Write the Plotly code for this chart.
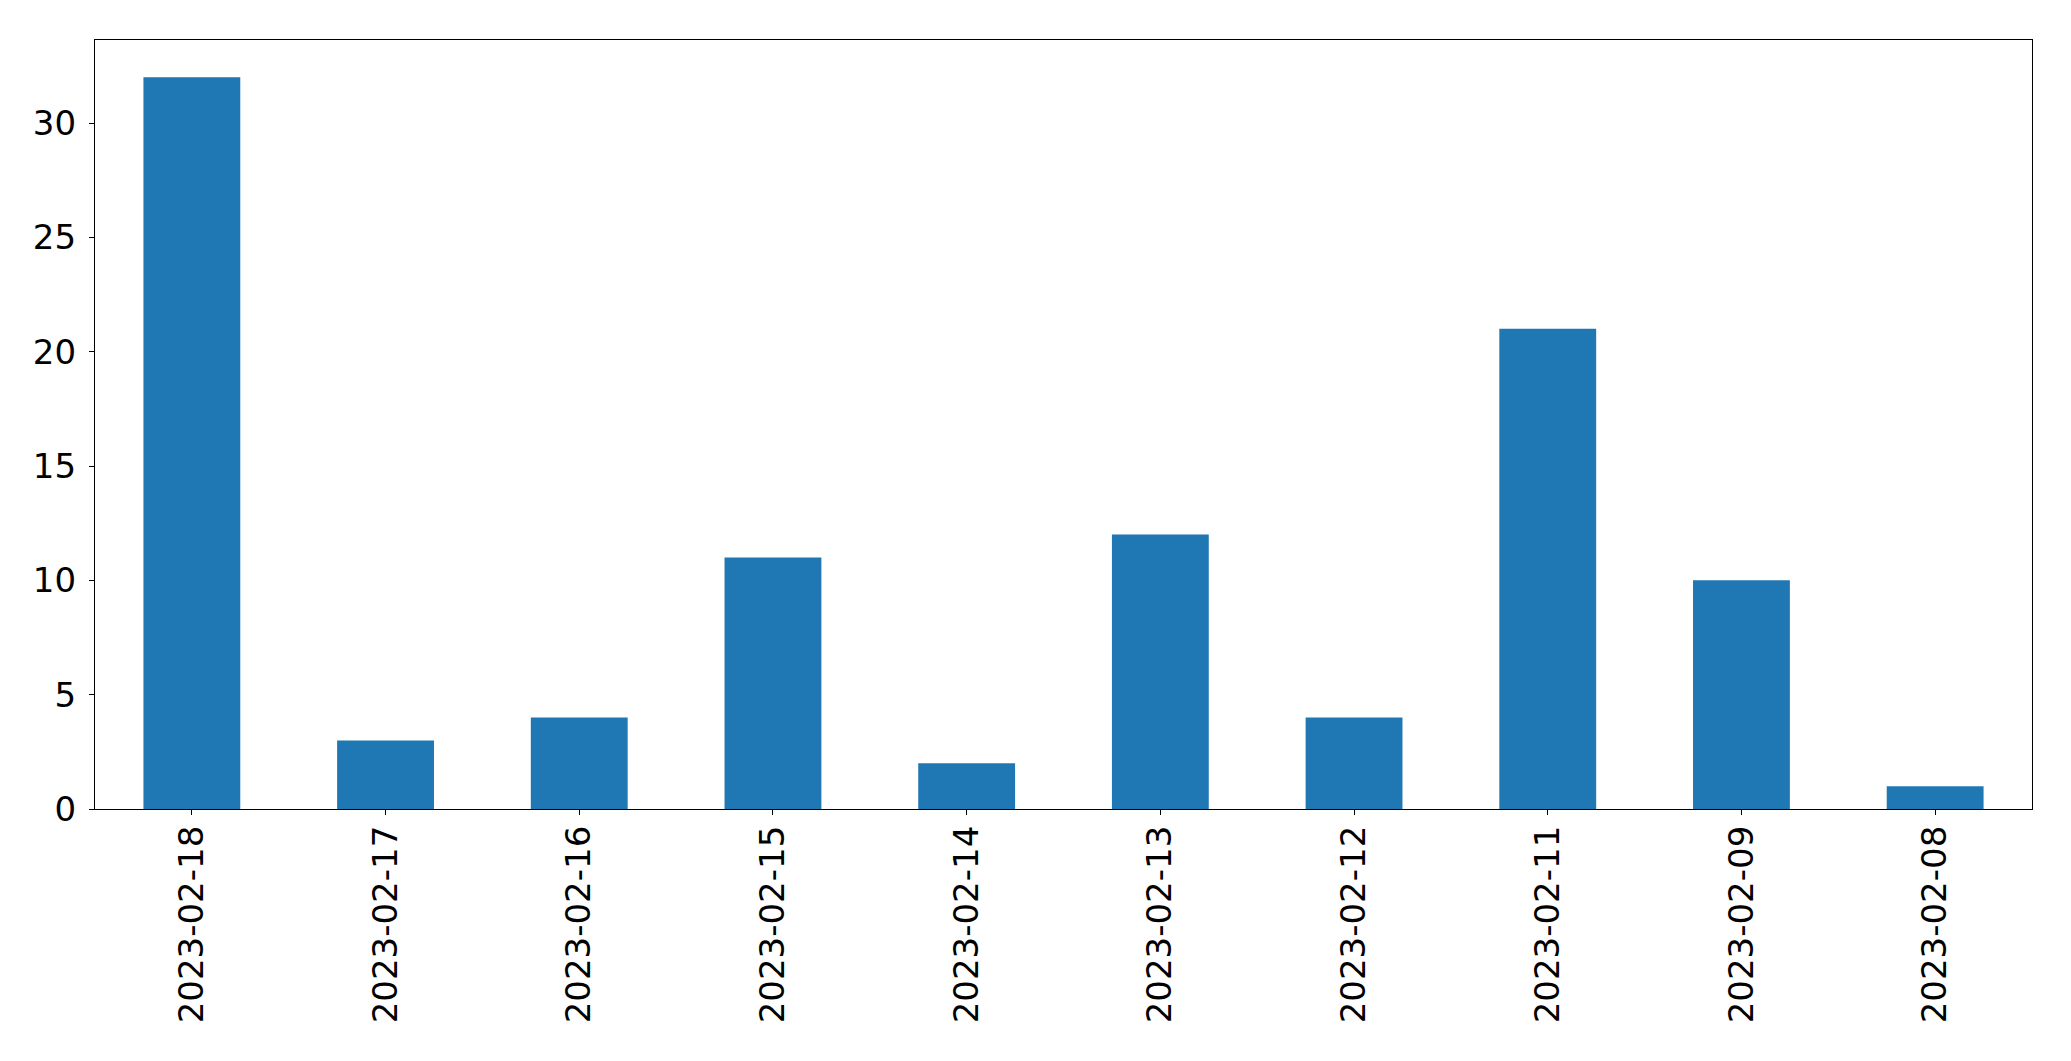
import plotly.graph_objects as go

dates = ["2023-02-18", "2023-02-17", "2023-02-16", "2023-02-15", "2023-02-14",
         "2023-02-13", "2023-02-12", "2023-02-11", "2023-02-09", "2023-02-08"]
counts = [32, 3, 4, 11, 2, 12, 4, 21, 10, 1]
y_ticks = [0, 5, 10, 15, 20, 25, 30]

fig = go.Figure(go.Bar(x=dates, y=counts, marker_color="#1f77b4",
                       marker_line_width=0, width=0.5))

axis_common = dict(showline=True, linecolor="black", linewidth=1.3, mirror=True,
                   ticks="outside", ticklen=5, tickwidth=1.3, tickcolor="black",
                   showgrid=False, zeroline=False,
                   tickfont=dict(family="DejaVu Sans", size=34, color="black"))

fig.update_layout(
    width=2071, height=1061,
    margin=dict(l=95, r=39, t=40, b=252, pad=0),
    paper_bgcolor="white", plot_bgcolor="white",
    showlegend=False,
    xaxis=dict(type="category", range=[-0.5, 9.5], tickangle=-90,
               ticklabelstandoff=-3, **axis_common),
    yaxis=dict(range=[0, 33.63], tickvals=y_ticks, ticklabelstandoff=6,
               **axis_common),
)

fig.write_html("out.html", config={"displayModeBar": False},
               post_script="document.body.style.margin='0';")
